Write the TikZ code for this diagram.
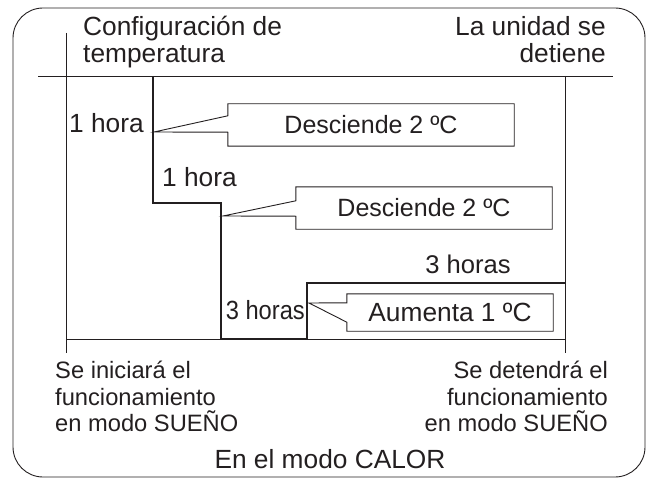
\documentclass[tikz,border=0pt]{standalone}
\usepackage{fontspec}
\setmainfont{Liberation Sans}
\usetikzlibrary{positioning, calc}
\definecolor{inkgray}{RGB}{35, 31, 32}

\tikzset{
  txt/.style={inner sep=0pt, text=inkgray, font=\fontsize{23.7}{28}\selectfont},
  bigtxt/.style={txt, font=\fontsize{26.3}{30}\selectfont},
  calloutbox/.style={txt, font=\fontsize{25}{30}\selectfont, minimum height=42pt},
  thinline/.style={draw=inkgray, line width=0.9pt},
  stepline/.style={draw=inkgray, line width=1.9pt},
}

\begin{document}
\begin{tikzpicture}[x=1pt, y=-1pt]
    \useasboundingbox (0,0) rectangle (652,481);
    % outer frame
    \draw[thinline, rounded corners=30pt] (13,8) rectangle (645,477);

    % time axis
    \coordinate (topleft) at (38,76);
    \coordinate (topright) at (613,76);
    \coordinate (startup) at (66,33);
    \coordinate (startdown) at (66,353);
    \coordinate (stopup) at (565,76);
    \coordinate (stopdown) at (565,353);
    \coordinate (baseleft) at (66,339);
    \coordinate (baseright) at (565,339);
    \draw[thinline] (topleft) -- (topright);
    \draw[thinline] (startup) -- (startdown);
    \draw[thinline] (stopup) -- (stopdown);
    \draw[thinline] (baseleft) -- (baseright);

    % temperature steps
    \coordinate (s0) at (153,76);
    \coordinate (s1) at (153,203);
    \coordinate (s2) at (221,203);
    \coordinate (s3) at (221,339);
    \coordinate (s4) at (307,339);
    \coordinate (s5) at (307,283);
    \coordinate (s6) at (565,283);
    \draw[stepline] (s0) -- (s1) -- (s2) -- (s3) -- (s4) -- (s5) -- (s6);

    % heading texts
    \node[bigtxt, anchor=base west] (conf) at (83,36) {Configuración de};
    \node[bigtxt, anchor=base west] (temp) at (83,63) {temperatura};
    \node[bigtxt, anchor=base east] (unidad) at (606,36) {La unidad se};
    \node[bigtxt, anchor=base east] (detiene) at (606,63) {detiene};

    % durations
    \node[bigtxt, anchor=base west] (hora1) at (69,133) {1 hora};
    \node[bigtxt, anchor=base west] (hora2) at (162,186) {1 hora};
    \node[bigtxt, anchor=base east] (horas3a) at (305,319) {\scalebox{0.9}[1]{3 horas}};
    \node[bigtxt, font=\fontsize{25.6}{30}\selectfont, anchor=base east] (horas3b) at (511,273) {3 horas};

    % callouts
    \node[calloutbox, minimum width=286pt] (desc1) at (371,125) {Desciende 2 ºC};
    \node[calloutbox, minimum width=256pt] (desc2) at (424,208) {Desciende 2 ºC};
    \node[calloutbox, font=\fontsize{26.3}{30}\selectfont, minimum width=206pt, minimum height=37pt] (aum) at (450,312.5) {Aumenta 1 ºC};

    \coordinate (tip1) at (154,132);
    \coordinate (tip2) at (223,216);
    \coordinate (tip3) at (309,303);

    \draw[thinline] (tip1) -- ($(desc1.north west)+(0,12)$) -- (desc1.north west) -- (desc1.north east)
        -- (desc1.south east) -- (desc1.south west) -- ($(desc1.south west)+(0,-14)$) -- cycle;
    \draw[thinline] (tip2) -- ($(desc2.north west)+(0,14)$) -- (desc2.north west) -- (desc2.north east)
        -- (desc2.south east) -- (desc2.south west) -- ($(desc2.south west)+(0,-13)$) -- cycle;
    \draw[thinline] (tip3) -- ($(aum.north west)+(0,9)$) -- (aum.north west) -- (aum.north east)
        -- (aum.south east) -- (aum.south west) -- ($(aum.south west)+(0,-9)$) -- cycle;

    % start / stop texts
    \node[txt, anchor=base west] (ini1) at (55,378) {Se iniciará el};
    \node[txt, anchor=base west] (ini2) at (55,405) {funcionamiento};
    \node[txt, anchor=base west] (ini3) at (55,431) {en modo SUEÑO};
    \node[txt, anchor=base east] (fin1) at (608,378) {Se detendrá el};
    \node[txt, anchor=base east] (fin2) at (608,405) {funcionamiento};
    \node[txt, anchor=base east] (fin3) at (608,431) {en modo SUEÑO};

    \node[bigtxt, anchor=base] (modo) at (330,468) {En el modo CALOR};
\end{tikzpicture}
\end{document}
